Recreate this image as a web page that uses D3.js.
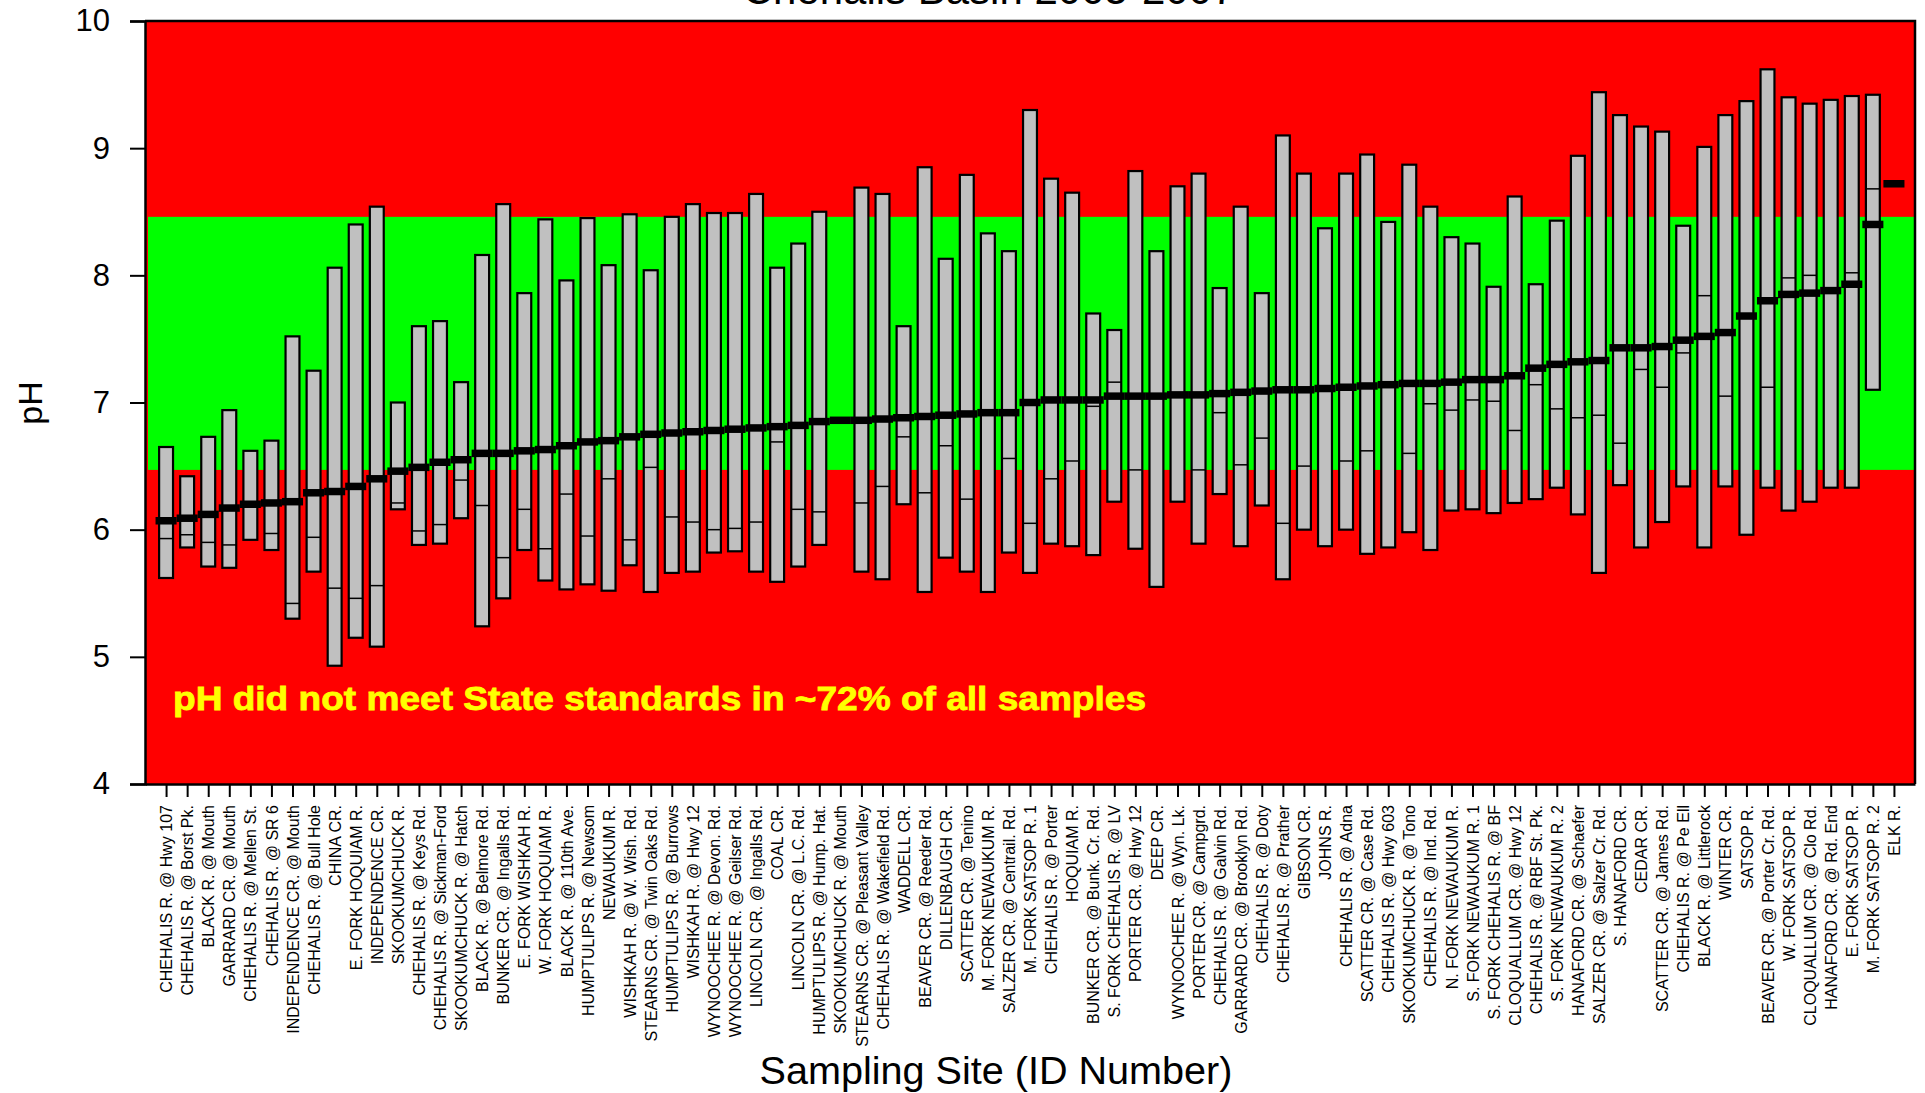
<!DOCTYPE html>
<html>
<head>
<meta charset="utf-8">
<script src="https://cdn.jsdelivr.net/npm/d3@7"></script>
<style>
    html, body { margin: 0; padding: 0; background: #fff; }
    svg { display: block; font-family: "Liberation Sans", Arial, sans-serif; }
</style>
</head>
<body>
<div id="chart"></div>
<script>
'use strict';

// Sampling sites, sorted by the thick marker value (as in the source figure)
const sites = [
    'CHEHALIS R. @ Hwy 107', 'CHEHALIS R. @ Borst Pk.', 'BLACK R. @ Mouth', 'GARRARD CR. @ Mouth',
    'CHEHALIS R. @ Mellen St.', 'CHEHALIS R. @ SR 6', 'INDEPENDENCE CR. @ Mouth', 'CHEHALIS R. @ Bull Hole',
    'CHINA CR.', 'E. FORK HOQUIAM R.', 'INDEPENDENCE CR.', 'SKOOKUMCHUCK R.',
    'CHEHALIS R. @ Keys Rd.', 'CHEHALIS R. @ Sickman-Ford', 'SKOOKUMCHUCK R. @ Hatch', 'BLACK R. @ Belmore Rd.',
    'BUNKER CR. @ Ingalls Rd.', 'E. FORK WISHKAH R.', 'W. FORK HOQUIAM R.', 'BLACK R. @ 110th Ave.',
    'HUMPTULIPS R. @ Newsom', 'NEWAUKUM R.', 'WISHKAH R. @ W. Wish. Rd.', 'STEARNS CR. @ Twin Oaks Rd.',
    'HUMPTULIPS R. @ Burrows', 'WISHKAH R. @ Hwy 12', 'WYNOOCHEE R. @ Devon. Rd.', 'WYNOOCHEE R. @ Geilser Rd.',
    'LINCOLN CR. @ Ingalls Rd.', 'COAL CR.', 'LINCOLN CR. @ L.C. Rd.', 'HUMPTULIPS R. @ Hump. Hat.',
    'SKOOKUMCHUCK R. @ Mouth', 'STEARNS CR. @ Pleasant Valley', 'CHEHALIS R. @ Wakefield Rd.', 'WADDELL CR.',
    'BEAVER CR. @ Reeder Rd.', 'DILLENBAUGH CR.', 'SCATTER CR. @ Tenino', 'M. FORK NEWAUKUM R.',
    'SALZER CR. @ Centrail. Rd.', 'M. FORK SATSOP R. 1', 'CHEHALIS R. @ Porter', 'HOQUIAM R.',
    'BUNKER CR. @ Bunk. Cr. Rd.', 'S. FORK CHEHALIS R. @ LV', 'PORTER CR. @ Hwy 12', 'DEEP CR.',
    'WYNOOCHEE R. @ Wyn. Lk.', 'PORTER CR. @ Campgrd.', 'CHEHALIS R. @ Galvin Rd.', 'GARRARD CR. @ Brooklyn Rd.',
    'CHEHALIS R. @ Doty', 'CHEHALIS R. @ Prather', 'GIBSON CR.', 'JOHNS R.',
    'CHEHALIS R. @ Adna', 'SCATTER CR. @ Case Rd.', 'CHEHALIS R. @ Hwy 603', 'SKOOKUMCHUCK R. @ Tono',
    'CHEHALIS R. @ Ind. Rd.', 'N. FORK NEWAUKUM R.', 'S. FORK NEWAUKUM R. 1', 'S. FORK CHEHALIS R. @ BF',
    'CLOQUALLUM CR. @ Hwy 12', 'CHEHALIS R. @ RBF St. Pk.', 'S. FORK NEWAUKUM R. 2', 'HANAFORD CR. @ Schaefer',
    'SALZER CR. @ Salzer Cr. Rd.', 'S. HANAFORD CR.', 'CEDAR CR.', 'SCATTER CR. @ James Rd.',
    'CHEHALIS R. @ Pe Ell', 'BLACK R. @ Littlerock', 'WINTER CR.', 'SATSOP R.',
    'BEAVER CR. @ Porter Cr. Rd.', 'W. FORK SATSOP R.', 'CLOQUALLUM CR. @ Clo Rd.', 'HANAFORD CR. @ Rd. End',
    'E. FORK SATSOP R.', 'M. FORK SATSOP R. 2', 'ELK R.'
];

// Top of each range bar (maximum pH); null = no bar drawn
const maxPH = [
    6.65, 6.42, 6.73, 6.94, 6.62, 6.70, 7.52, 7.25, 8.06, 8.40,
    8.54, 7.00, 7.60, 7.64, 7.16, 8.16, 8.56, 7.86, 8.44, 7.96,
    8.45, 8.08, 8.48, 8.04, 8.46, 8.56, 8.49, 8.49, 8.64, 8.06,
    8.25, 8.50, null, 8.69, 8.64, 7.60, 8.85, 8.13, 8.79, 8.33,
    8.19, 9.30, 8.76, 8.65, 7.70, 7.57, 8.82, 8.19, 8.70, 8.80,
    7.90, 8.54, 7.86, 9.10, 8.80, 8.37, 8.80, 8.95, 8.42, 8.87,
    8.54, 8.30, 8.25, 7.91, 8.62, 7.93, 8.43, 8.94, 9.44, 9.26,
    9.17, 9.13, 8.39, 9.01, 9.26, 9.37, 9.62, 9.40, 9.35, 9.38,
    9.41, 9.42, null
];

// Bottom of each range bar (minimum pH)
const minPH = [
    5.62, 5.86, 5.71, 5.70, 5.92, 5.84, 5.30, 5.67, 4.93, 5.15,
    5.08, 6.16, 5.88, 5.89, 6.09, 5.24, 5.46, 5.84, 5.60, 5.53,
    5.57, 5.52, 5.72, 5.51, 5.66, 5.67, 5.82, 5.83, 5.67, 5.59,
    5.71, 5.88, null, 5.67, 5.61, 6.20, 5.51, 5.78, 5.67, 5.51,
    5.82, 5.66, 5.89, 5.87, 5.80, 6.22, 5.85, 5.55, 6.22, 5.89,
    6.28, 5.87, 6.19, 5.61, 6.00, 5.87, 6.00, 5.81, 5.86, 5.98,
    5.84, 6.15, 6.16, 6.13, 6.21, 6.24, 6.33, 6.12, 5.66, 6.35,
    5.86, 6.06, 6.34, 5.86, 6.34, 5.96, 6.33, 6.15, 6.22, 6.33,
    6.33, 7.10, null
];

// Thin line inside each bar
const innerPH = [
    5.93, 5.96, 5.90, 5.88, null, 5.97, 5.42, 5.94, 5.54, 5.46,
    5.56, 6.21, 5.99, 6.04, 6.39, 6.19, 5.78, 6.16, 5.85, 6.28,
    5.95, 6.40, 5.92, 6.49, 6.10, 6.06, 6.00, 6.01, 6.06, 6.69,
    6.16, 6.14, null, 6.21, 6.34, 6.73, 6.29, 6.66, 6.24, null,
    6.56, 6.05, 6.40, 6.54, 6.97, 7.16, 6.47, null, null, 6.47,
    6.92, 6.51, 6.72, 6.05, 6.50, null, 6.54, 6.62, null, 6.60,
    6.99, 6.94, 7.02, 7.01, 6.78, 7.14, 6.95, 6.88, 6.90, 6.68,
    7.26, 7.12, 7.39, 7.84, 7.05, null, 7.12, 7.98, 8.00, 7.90,
    8.02, 8.68, null
];

// Thick black marker (sort key)
const markPH = [
    6.07, 6.09, 6.12, 6.17, 6.20, 6.21, 6.22, 6.29, 6.30, 6.34,
    6.40, 6.46, 6.49, 6.53, 6.55, 6.60, 6.60, 6.62, 6.63, 6.66,
    6.69, 6.70, 6.73, 6.75, 6.76, 6.77, 6.78, 6.79, 6.80, 6.81,
    6.82, 6.85, 6.86, 6.86, 6.87, 6.88, 6.89, 6.90, 6.91, 6.92,
    6.92, 7.00, 7.02, 7.02, 7.02, 7.05, 7.05, 7.05, 7.06, 7.06,
    7.07, 7.08, 7.09, 7.10, 7.10, 7.11, 7.12, 7.13, 7.14, 7.15,
    7.15, 7.16, 7.18, 7.18, 7.21, 7.27, 7.30, 7.32, 7.33, 7.43,
    7.43, 7.44, 7.49, 7.52, 7.55, 7.68, 7.80, 7.85, 7.86, 7.88,
    7.93, 8.40, 8.72
];

// State standard band (green) and axis ticks
const standardLow = 6.47;
const standardHigh = 8.46;
const yTicks = [4, 5, 6, 7, 8, 9, 10];

const W = 1925, H = 1093;
const plot = {left: 145, right: 1915, top: 21, bottom: 784};

const svg = d3.select('#chart').append('svg').attr('width', W).attr('height', H);

const x = d3.scaleLinear().domain([0, sites.length + 1]).range([plot.left, plot.right]);
const y = d3.scaleLinear().domain([4, 10]).range([plot.bottom, plot.top]);
const step = x(1) - x(0);
const barW = step * 0.66;

const rows = sites.map((name, i) => ({
    pos: i + 1, name, max: maxPH[i], min: minPH[i], inner: innerPH[i], mark: markPH[i]
}));

// Background: red everywhere, green inside the standard
svg.append('rect')
    .attr('x', plot.left).attr('y', plot.top)
    .attr('width', plot.right - plot.left).attr('height', plot.bottom - plot.top)
    .attr('fill', '#ff0000');
svg.append('rect')
    .attr('x', plot.left + 3).attr('y', y(standardHigh))
    .attr('width', plot.right - plot.left - 3).attr('height', y(standardLow) - y(standardHigh))
    .attr('fill', '#00ff00');

// Title (mostly cut off at top of the picture, as in the source)
svg.append('text')
    .attr('x', 989).attr('y', 4)
    .attr('text-anchor', 'middle').attr('font-size', 42)
    .text('Chehalis Basin 2005-2007');

// Annotation
svg.append('text')
    .attr('x', 173).attr('y', 710)
    .attr('font-size', 34).attr('font-weight', 'bold').attr('fill', '#ffff00')
    .attr('stroke', '#ffff00').attr('stroke-width', 0.8)
    .attr('textLength', 973).attr('lengthAdjust', 'spacingAndGlyphs')
    .text('pH did not meet State standards in ~72% of all samples');

// Range bars
const bars = rows.filter(d => d.max !== null);
svg.append('g').selectAll('rect')
    .data(bars).join('rect')
    .attr('x', d => x(d.pos) - barW / 2).attr('y', d => y(d.max))
    .attr('width', barW).attr('height', d => y(d.min) - y(d.max))
    .attr('fill', '#c0c0c0').attr('stroke', '#000').attr('stroke-width', 2.2);

svg.append('g').selectAll('line')
    .data(bars.filter(d => d.inner !== null)).join('line')
    .attr('x1', d => x(d.pos) - barW / 2).attr('x2', d => x(d.pos) + barW / 2)
    .attr('y1', d => y(d.inner)).attr('y2', d => y(d.inner))
    .attr('stroke', '#000').attr('stroke-width', 1.5);

// Thick markers, one band wide
svg.append('g').selectAll('line')
    .data(rows).join('line')
    .attr('x1', d => x(d.pos) - step / 2).attr('x2', d => x(d.pos) + step / 2)
    .attr('y1', d => y(d.mark)).attr('y2', d => y(d.mark))
    .attr('stroke', '#000').attr('stroke-width', 7.5);

// Frame
svg.append('path')
    .attr('d', `M${plot.left},${plot.top}H${plot.right}V${plot.bottom}`)
    .attr('fill', 'none').attr('stroke', '#000').attr('stroke-width', 2.5);

// Y axis
svg.append('g')
    .attr('transform', `translate(${plot.left},0)`)
    .call(d3.axisLeft(y).tickValues(yTicks).tickSize(15).tickPadding(20).tickFormat(d3.format('d')))
    .call(g => {
        g.select('.domain').attr('stroke-width', 2.5);
        g.selectAll('line').attr('stroke-width', 2);
        g.selectAll('text').attr('font-size', 31).attr('fill', '#000')
            .attr('font-family', '"Liberation Sans", Arial, sans-serif');
    });

// X axis with rotated site names
svg.append('g')
    .attr('transform', `translate(0,${plot.bottom})`)
    .call(d3.axisBottom(x).tickValues(rows.map(d => d.pos)).tickSize(13).tickSizeOuter(0)
        .tickFormat(p => sites[p - 1]))
    .call(g => {
        g.select('.domain').attr('stroke-width', 2.5);
        g.selectAll('line').attr('stroke-width', 2);
        g.selectAll('text')
            .attr('font-size', 16).attr('fill', '#000')
            .attr('font-family', '"Liberation Sans", Arial, sans-serif')
            .attr('text-anchor', 'end')
            .attr('transform', 'rotate(-90)')
            .attr('x', -21).attr('y', 0).attr('dy', '0.35em');
    });

// Axis titles
svg.append('text')
    .attr('transform', 'translate(42,403) rotate(-90)')
    .attr('text-anchor', 'middle').attr('font-size', 34)
    .text('pH');

svg.append('text')
    .attr('x', 996).attr('y', 1084)
    .attr('text-anchor', 'middle').attr('font-size', 38)
    .attr('textLength', 473).attr('lengthAdjust', 'spacingAndGlyphs')
    .text('Sampling Site (ID Number)');
</script>
</body>
</html>
